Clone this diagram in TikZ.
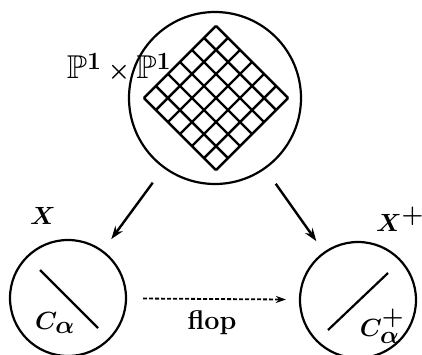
\documentclass[tikz,border=0pt]{standalone}
\usepackage{amssymb}
\usetikzlibrary{arrows.meta}

\tikzset{
  space/.style={circle, draw, line width=2.2pt, inner sep=0pt},
  curve/.style={line width=2.2pt},
  gridline/.style={line width=2.4pt},
  mapto/.style={line width=2.4pt, -{Stealth[length=13pt,width=9pt]}},
  flopto/.style={line width=1.8pt, dash pattern=on 4pt off 2pt, -{Stealth[length=10pt,width=7pt]}},
}

\begin{document}
\begin{tikzpicture}[x=1pt, y=-1pt, font=\fontsize{33}{40}\selectfont\boldmath]
    \useasboundingbox (0,0) rectangle (422,355);

    % Blow-up with exceptional P1 x P1
    \node[space, minimum size=172pt] (top) at (215,98) {};
    \begin{scope}[shift={(216,98)}, rotate=45]
      \foreach \i in {0,...,6} {
        \draw[gridline] ({-51+17*\i},-51) -- ({-51+17*\i},51);
        \draw[gridline] (-51,{-51+17*\i}) -- (51,{-51+17*\i});
      }
    \end{scope}
    \node (pp) at (119,68) {$\mathbb{P}^1\times\mathbb{P}^1$};

    % X with curve C_alpha
    \node[space, minimum size=116pt] (X) at (68,298) {};
    \draw[curve] ([shift={(-28,-28)}]X.center) -- ([shift={(30,30)}]X.center);
    \node (labX) at (43,216) {$X$};
    \node (labC) at (55,323) {$C_\alpha$};

    % X+ with flopped curve
    \node[space, minimum size=116pt] (Xp) at (358,300) {};
    \draw[curve] ([shift={(30,-27)}]Xp.center) -- ([shift={(-30,30)}]Xp.center);
    \node (labXp) at (400,219) {$X^+$};
    \node (labCp) at (382,326) {$C_\alpha^+$};

    % Maps
    \draw[mapto, shorten <=18pt, shorten >=14pt] (top) -- (X);
    \draw[mapto, shorten <=18pt, shorten >=13pt] (top) -- (Xp);
    \draw[flopto, shorten <=16pt, shorten >=13pt] (X) -- (Xp);
    \node[font=\fontsize{27}{32}\selectfont\bfseries] (flop) at (212,323) {flop};
\end{tikzpicture}
\end{document}
